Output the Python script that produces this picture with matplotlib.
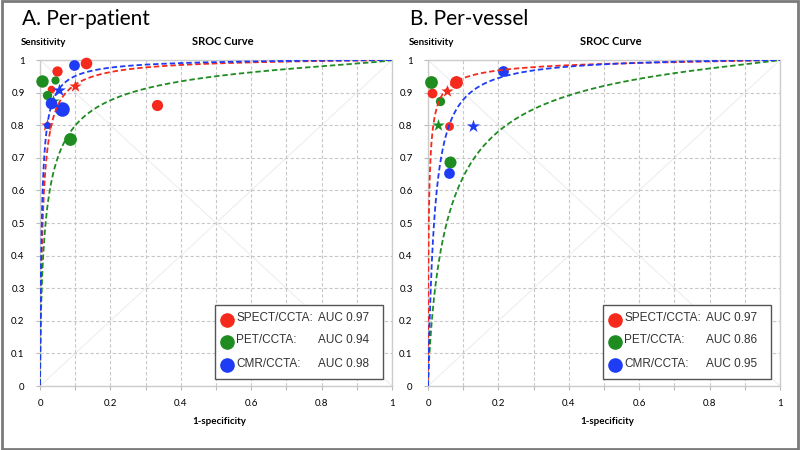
import matplotlib
matplotlib.use('Agg')

import numpy as np
import matplotlib.pyplot as plt
import matplotlib.patches as patches
from matplotlib.lines import Line2D

# modalities
modalities = ['SPECT/CCTA', 'PET/CCTA', 'CMR/CCTA']
colors = ['#f52a1c', '#1f8c22', '#1f3cf5']

# SROC curve parameters (logit(sens) = a + b * logit(1-spec))
patient_a = [4.55, 2.95, 5.05]
patient_b = [0.93, 0.715, 0.95]
vessel_a = [4.42, 2.45, 4.32]
vessel_b = [0.725, 0.85, 1.067]
patient_auc = ['0.97', '0.94', '0.98']
vessel_auc = ['0.97', '0.86', '0.95']

# per-patient study points: (1-specificity, sensitivity, size, marker)
patient_x = [[0.131, 0.048, 0.030, 0.099, 0.021, 0.333],
             [0.006, 0.044, 0.021, 0.036, 0.084],
             [0.098, 0.055, 0.032, 0.063, 0.019]]
patient_y = [[0.990, 0.966, 0.910, 0.921, 0.800, 0.862],
             [0.937, 0.939, 0.893, 0.875, 0.758],
             [0.985, 0.908, 0.869, 0.849, 0.802]]
patient_s = [[70, 55, 30, 55, 55, 65],
             [80, 35, 45, 55, 85],
             [60, 60, 70, 110, 25]]
patient_m = [['o', 'o', 'o', '*', '*', 'o'],
             ['o', 'o', 'o', '*', 'o'],
             ['o', '*', 'o', 'o', 'o']]

# per-vessel study points
vessel_x = [[0.010, 0.079, 0.053, 0.060],
            [0.009, 0.034, 0.027, 0.0625],
            [0.212, 0.127, 0.060]]
vessel_y = [[0.900, 0.932, 0.905, 0.798],
            [0.932, 0.873, 0.800, 0.688],
            [0.966, 0.798, 0.654]]
vessel_s = [[50, 85, 55, 40],
            [85, 45, 55, 75],
            [60, 60, 60]]
vessel_m = [['o', 'o', '*', 'o'],
            ['o', 'o', '*', 'o'],
            ['o', '*', 'o']]

plt.rcParams['font.family'] = ['Lato', 'DejaVu Sans']

fig = plt.figure(figsize=(8, 4.5), dpi=100)
fig.patches.append(patches.Rectangle((0.002, 0.003), 0.996, 0.994, transform=fig.transFigure,
                                     fill=False, edgecolor='#7a7a7a', linewidth=2))


def logit(p):
    return np.log(p / (1 - p))


def draw_panel(rect, title, xs, ys, ss, ms, a_list, b_list, aucs):
    ax = fig.add_axes(rect)
    ax.set_xlim(0, 1)
    ax.set_ylim(0, 1)

    # grid and diagonals
    ax.set_xticks(np.arange(0, 1.01, 0.1))
    ax.set_yticks(np.arange(0, 1.01, 0.1))
    ax.grid(True, color='#c8c8c8', linestyle=(0, (3, 2)), linewidth=0.8)
    ax.plot([0, 1], [0, 1], color='#eeeeee', linewidth=0.8, zorder=1)
    ax.plot([0, 1], [1, 0], color='#eeeeee', linewidth=0.8, zorder=1)
    for sp in ax.spines.values():
        sp.set_color('#cccccc')
        sp.set_linewidth(1.0)

    xlab = ['0', '', '0.2', '', '0.4', '', '0.6', '', '0.8', '', '1']
    ax.set_xticklabels(xlab, fontsize=7)
    ylab = ['0', '0.1', '0.2', '0.3', '0.4', '0.5', '0.6', '0.7', '0.8', '0.9', '1']
    ax.set_yticklabels(ylab, fontsize=7)
    ax.tick_params(axis='x', length=3, color='#bbbbbb', pad=6)
    ax.tick_params(axis='y', length=3, color='#bbbbbb', pad=8)

    # study points
    for i in range(3):
        for x, y, s, m in zip(xs[i], ys[i], ss[i], ms[i]):
            size = s * 1.6 if m == '*' else s
            ax.scatter(x, y, s=size, marker=m, color=colors[i], linewidths=0, zorder=3,
                       clip_on=False)

    # SROC curves
    fpr = np.concatenate([np.geomspace(1e-5, 0.05, 300), np.linspace(0.05, 0.9999, 400)])
    for i in range(3):
        sens = 1 / (1 + np.exp(-(a_list[i] + b_list[i] * logit(fpr))))
        ax.plot(fpr, sens, color=colors[i], linestyle=(0, (3, 1.6)), linewidth=1.3, zorder=4)

    # labels
    ax.text(-0.055, 1.04, 'Sensitivity', transform=ax.transAxes, fontsize=7, fontweight='bold',
            ha='left', va='bottom')
    ax.text(0.52, 1.04, 'SROC Curve', transform=ax.transAxes, fontsize=8, fontweight='bold',
            ha='center', va='bottom')
    ax.text(0.51, -0.095, '1-specificity', transform=ax.transAxes, fontsize=7, fontweight='bold',
            ha='center', va='top')
    ax.text(-0.05, 1.095, title, transform=ax.transAxes, fontsize=15, ha='left', va='bottom')

    # legend box
    box = patches.Rectangle((0.497, 0.021), 0.478, 0.227, transform=ax.transAxes,
                            facecolor='white', edgecolor='#555555', linewidth=1.0, zorder=5)
    ax.add_patch(box)
    rows = [0.204, 0.136, 0.063]
    for i in range(3):
        ax.add_line(Line2D([0.531], [rows[i]], transform=ax.transAxes, marker='o',
                           markersize=9.5, color=colors[i], linestyle='none', zorder=6))
        ax.text(0.557, rows[i] + 0.004, modalities[i] + ':', transform=ax.transAxes,
                fontsize=8.5, family='Liberation Sans', color='#333333', va='center', zorder=6)
        ax.text(0.79, rows[i] + 0.004, 'AUC ' + aucs[i], transform=ax.transAxes,
                fontsize=8.5, family='Liberation Sans', color='#333333', va='center', zorder=6)
    return ax


draw_panel([0.05, 0.1422, 0.44, 0.7244], 'A. Per-patient', patient_x, patient_y, patient_s,
           patient_m, patient_a, patient_b, patient_auc)
draw_panel([0.535, 0.1422, 0.44, 0.7244], 'B. Per-vessel', vessel_x, vessel_y, vessel_s,
           vessel_m, vessel_a, vessel_b, vessel_auc)

fig.savefig('out.png', dpi=100)
